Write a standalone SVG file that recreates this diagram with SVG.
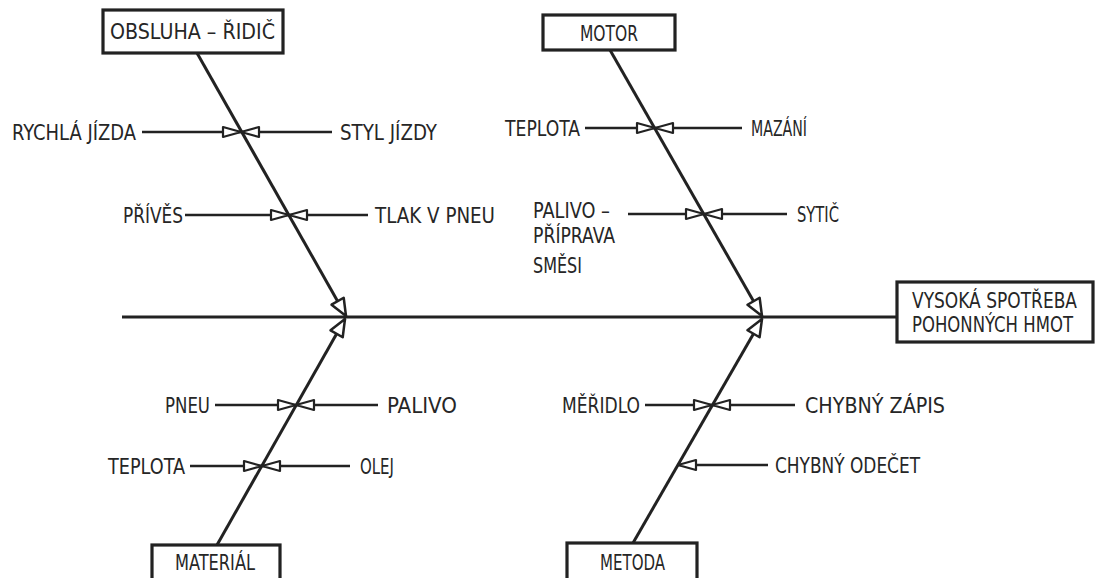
<svg xmlns="http://www.w3.org/2000/svg" width="1095" height="578" viewBox="0 0 1095 578">
  <defs>
    <style>
      .box{fill:#fff;stroke:#222;stroke-width:3.2}
      .t{font-family:"DejaVu Sans Condensed","Liberation Sans Narrow","Liberation Sans",sans-serif;font-size:21px;fill:#262626}
      .spine{stroke:#222;stroke-width:3;fill:none}
      .bone{stroke:#222;stroke-width:3;fill:none;marker-end:url(#big)}
      .sub{stroke:#222;stroke-width:2.5;fill:none;marker-end:url(#small)}
    </style>
    <!-- open triangle arrowheads -->
    <marker id="small" markerUnits="userSpaceOnUse" markerWidth="26" markerHeight="18" viewBox="-4 -9 26 18" refX="18" refY="0" orient="auto">
      <path d="M0,-5 L18,0 L0,5 Z" fill="#fff" stroke="#222" stroke-width="2.2" stroke-linejoin="round"/>
    </marker>
    <marker id="big" markerUnits="userSpaceOnUse" markerWidth="26" markerHeight="22" viewBox="-4 -11 26 22" refX="17" refY="0" orient="auto">
      <path d="M0,-7 L17,0 L0,7 Z" fill="#fff" stroke="#222" stroke-width="2.5" stroke-linejoin="round"/>
    </marker>
  </defs>
  <rect width="1095" height="578" fill="#fff"/>

  <g id="connectors">
    <line class="spine" x1="122" y1="317" x2="897" y2="317"/>
    <line class="bone" x1="197" y1="53" x2="346" y2="316"/>
    <line class="bone" x1="610" y1="50" x2="762" y2="316"/>
    <line class="bone" x1="217" y1="545" x2="345" y2="319"/>
    <line class="bone" x1="633" y1="543" x2="762" y2="319"/>
    <!-- sub-causes -->
    <line class="sub" x1="142" y1="132" x2="241" y2="132"/>
    <line class="sub" x1="332" y1="132" x2="241" y2="132"/>
    <line class="sub" x1="185" y1="215" x2="289" y2="215"/>
    <line class="sub" x1="368" y1="215" x2="289" y2="215"/>
    <line class="sub" x1="585" y1="128" x2="655" y2="128"/>
    <line class="sub" x1="742" y1="128" x2="655" y2="128"/>
    <line class="sub" x1="628" y1="214" x2="704" y2="214"/>
    <line class="sub" x1="787" y1="214" x2="704" y2="214"/>
    <line class="sub" x1="215" y1="405" x2="296" y2="405"/>
    <line class="sub" x1="378" y1="405" x2="296" y2="405"/>
    <line class="sub" x1="190" y1="466" x2="262" y2="466"/>
    <line class="sub" x1="350" y1="466" x2="262" y2="466"/>
    <line class="sub" x1="645" y1="405" x2="712" y2="405"/>
    <line class="sub" x1="795" y1="405" x2="712" y2="405"/>
    <line class="sub" x1="768" y1="465" x2="678" y2="465"/>
  </g>

  <g id="effect">
    <rect class="box" x="897" y="282" width="196" height="60"/>
    <text class="t" x="912" y="308" textLength="165" lengthAdjust="spacingAndGlyphs">VYSOKÁ  SPOTŘEBA</text>
    <text class="t" x="912" y="332" textLength="161" lengthAdjust="spacingAndGlyphs">POHONNÝCH  HMOT</text>
  </g>

  <g id="obsluha">
    <rect class="box" x="103" y="10" width="180" height="43"/>
    <text class="t" x="110" y="39" textLength="165" lengthAdjust="spacingAndGlyphs">OBSLUHA  –  ŘIDIČ</text>
    <text class="t" x="12" y="140" textLength="124" lengthAdjust="spacingAndGlyphs">RYCHLÁ  JÍZDA</text>
    <text class="t" x="340" y="140" textLength="97" lengthAdjust="spacingAndGlyphs">STYL  JÍZDY</text>
    <text class="t" x="123" y="223" textLength="60" lengthAdjust="spacingAndGlyphs">PŘÍVĚS</text>
    <text class="t" x="375" y="223" textLength="120" lengthAdjust="spacingAndGlyphs">TLAK  V  PNEU</text>
  </g>

  <g id="motor">
    <rect class="box" x="543" y="15" width="132" height="35"/>
    <text class="t" x="580" y="41" textLength="58" lengthAdjust="spacingAndGlyphs">MOTOR</text>
    <text class="t" x="505" y="136" textLength="75" lengthAdjust="spacingAndGlyphs">TEPLOTA</text>
    <text class="t" x="751" y="136" textLength="56" lengthAdjust="spacingAndGlyphs">MAZÁNÍ</text>
    <text class="t" x="533" y="218" textLength="77" lengthAdjust="spacingAndGlyphs">PALIVO  –</text>
    <text class="t" x="533" y="243" textLength="82" lengthAdjust="spacingAndGlyphs">PŘÍPRAVA</text>
    <text class="t" x="533" y="273" textLength="49" lengthAdjust="spacingAndGlyphs">SMĚSI</text>
    <text class="t" x="797" y="222" textLength="42" lengthAdjust="spacingAndGlyphs">SYTIČ</text>
  </g>

  <g id="material">
    <rect class="box" x="152" y="545" width="128" height="40"/>
    <text class="t" x="175" y="570" textLength="80" lengthAdjust="spacingAndGlyphs">MATERIÁL</text>
    <text class="t" x="165" y="413" textLength="45" lengthAdjust="spacingAndGlyphs">PNEU</text>
    <text class="t" x="387" y="413" textLength="70" lengthAdjust="spacingAndGlyphs">PALIVO</text>
    <text class="t" x="108" y="474" textLength="77" lengthAdjust="spacingAndGlyphs">TEPLOTA</text>
    <text class="t" x="360" y="474" textLength="34" lengthAdjust="spacingAndGlyphs">OLEJ</text>
  </g>

  <g id="metoda">
    <rect class="box" x="567" y="543" width="130" height="42"/>
    <text class="t" x="600" y="570" textLength="65" lengthAdjust="spacingAndGlyphs">METODA</text>
    <text class="t" x="562" y="413" textLength="78" lengthAdjust="spacingAndGlyphs">MĚŘIDLO</text>
    <text class="t" x="805" y="413" textLength="140" lengthAdjust="spacingAndGlyphs">CHYBNÝ  ZÁPIS</text>
    <text class="t" x="775" y="473" textLength="145" lengthAdjust="spacingAndGlyphs">CHYBNÝ  ODEČET</text>
  </g>
</svg>
